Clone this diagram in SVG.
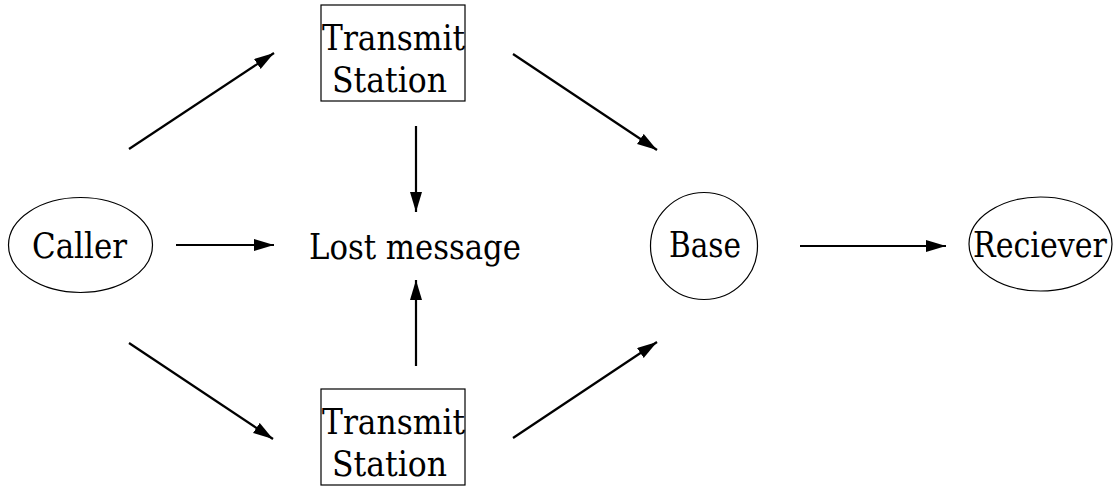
<svg xmlns="http://www.w3.org/2000/svg" width="1114" height="487" viewBox="0 0 1114 487">
  <style>
    .shape { fill: none; stroke: #000; stroke-width: 1.2; }
    .lbl { font-size: 36px; fill: #000; }
    .edge { stroke: #000; stroke-width: 2.2; fill: none; marker-end: url(#head); }
  </style>
  <defs>
    <marker id="head" markerUnits="userSpaceOnUse" markerWidth="22" markerHeight="14" refX="20" refY="6" orient="auto">
      <path d="M0,0 L20,6 L0,12 Z" fill="#000"/>
    </marker>
  </defs>
  <rect width="1114" height="487" fill="#fff"/>

  <g font-family="'DejaVu Serif', 'Liberation Serif', serif">
    <g id="caller">
      <ellipse class="shape" cx="80.5" cy="245" rx="72" ry="47.5"/>
      <text class="lbl" x="32" y="258" textLength="95" lengthAdjust="spacingAndGlyphs">Caller</text>
    </g>

    <g id="transmit-top">
      <rect class="shape" x="321" y="5" width="144" height="96"/>
      <text class="lbl" x="322" y="50" textLength="143" lengthAdjust="spacingAndGlyphs">Transmit</text>
      <text class="lbl" x="332" y="92" textLength="115" lengthAdjust="spacingAndGlyphs">Station</text>
    </g>

    <g id="transmit-bottom">
      <rect class="shape" x="321" y="389" width="144" height="96"/>
      <text class="lbl" x="322" y="434" textLength="143" lengthAdjust="spacingAndGlyphs">Transmit</text>
      <text class="lbl" x="332" y="476" textLength="115" lengthAdjust="spacingAndGlyphs">Station</text>
    </g>

    <g id="lost">
      <text class="lbl" x="309" y="259" textLength="212" lengthAdjust="spacingAndGlyphs">Lost message</text>
    </g>

    <g id="base">
      <circle class="shape" cx="704" cy="246" r="53.5"/>
      <text class="lbl" x="669" y="257" textLength="72" lengthAdjust="spacingAndGlyphs">Base</text>
    </g>

    <g id="receiver">
      <ellipse class="shape" cx="1040.5" cy="244" rx="71.5" ry="47"/>
      <text class="lbl" x="973" y="257" textLength="134" lengthAdjust="spacingAndGlyphs">Reciever</text>
    </g>
  </g>

  <g id="connectors">
    <line class="edge" x1="129" y1="149" x2="274" y2="53"/>
    <line class="edge" x1="176" y1="245" x2="274" y2="245"/>
    <line class="edge" x1="129" y1="343" x2="273" y2="439"/>
    <line class="edge" x1="416" y1="126" x2="416" y2="212"/>
    <line class="edge" x1="416" y1="366" x2="416" y2="280"/>
    <line class="edge" x1="513" y1="54" x2="657" y2="150"/>
    <line class="edge" x1="513" y1="438" x2="657" y2="342"/>
    <line class="edge" x1="800" y1="246" x2="946" y2="246"/>
  </g>
</svg>
